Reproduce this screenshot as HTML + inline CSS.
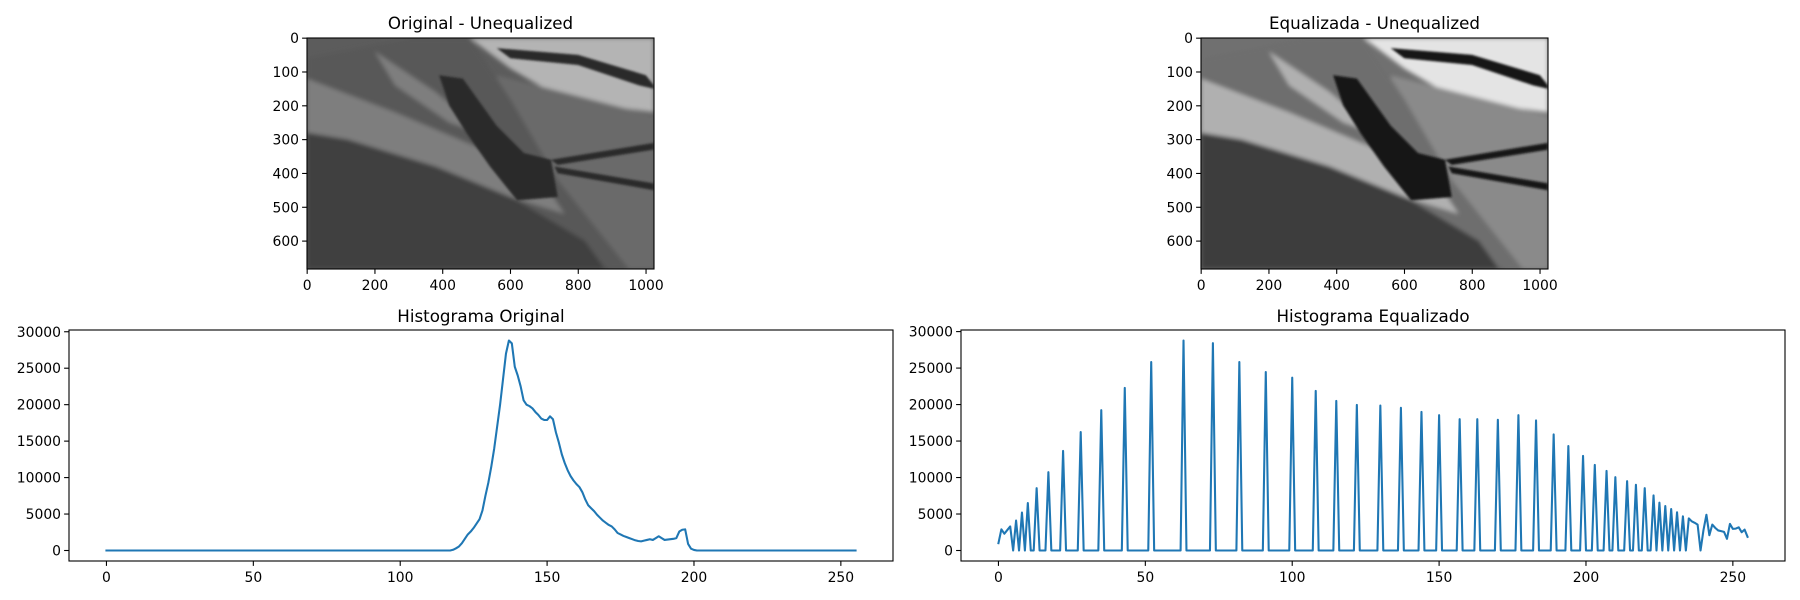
<!DOCTYPE html>
<html><head><meta charset="utf-8">
<style>
html,body{margin:0;padding:0;background:#fff;}
svg{display:block;font-family:"DejaVu Sans","Liberation Sans",sans-serif;}
</style></head>
<body>
<svg id="fig" width="1800" height="600" viewBox="0 0 1800 600" xmlns="http://www.w3.org/2000/svg">
<defs>
<filter id="soft" x="-5%" y="-5%" width="110%" height="110%"><feGaussianBlur stdDeviation="6"/></filter>
<filter id="soft2" x="-5%" y="-5%" width="110%" height="110%"><feGaussianBlur stdDeviation="3"/></filter>
<clipPath id="clipA"><rect x="0" y="0" width="1024" height="683"/></clipPath>
</defs>
</svg>
<script>
// ---------- data ----------
const origCounts = [
0,0,0,0,0,0,0,0,0,0,0,0,0,0,0,0,0,0,0,0,
0,0,0,0,0,0,0,0,0,0,0,0,0,0,0,0,0,0,0,0,
0,0,0,0,0,0,0,0,0,0,0,0,0,0,0,0,0,0,0,0,
0,0,0,0,0,0,0,0,0,0,0,0,0,0,0,0,0,0,0,0,
0,0,0,0,0,0,0,0,0,0,0,0,0,0,0,0,0,0,0,0,
0,0,0,0,0,0,0,0,0,0,0,0,0,0,0,0,0,0,100,300,
550,1000,1600,2200,2600,3100,3700,4300,5500,7500,9300,11500,14000,17000,20000,23500,27000,28800,28400,25200,
24000,22500,20600,20000,19800,19500,19000,18600,18100,17900,17900,18400,18000,16200,14800,13200,12000,11000,10200,9600,
9100,8700,8000,7000,6200,5800,5400,4900,4500,4100,3800,3500,3300,2900,2400,2200,2000,1850,1700,1550,
1400,1300,1250,1350,1450,1550,1450,1700,1950,1700,1450,1500,1550,1600,1700,2600,2850,2900,900,250,
80,0,0,0,0,0,0,0,0,0,0,0,0,0,0,0,0,0,0,0,
0,0,0,0,0,0,0,0,0,0,0,0,0,0,0,0,0,0,0,0,
0,0,0,0,0,0,0,0,0,0,0,0,0,0,0,0
];
const eqCounts = [
1000,2900,2300,2800,3300,0,4100,0,5200,0,6500,0,0,8550,0,0,0,10730,0,0,
0,0,13640,0,0,0,0,0,16230,0,0,0,0,0,0,19230,0,0,0,0,
0,0,0,22280,0,0,0,0,0,0,0,0,25830,0,0,0,0,0,0,0,
0,0,0,28780,0,0,0,0,0,0,0,0,0,28420,0,0,0,0,0,0,
0,0,25830,0,0,0,0,0,0,0,0,24460,0,0,0,0,0,0,0,0,
23690,0,0,0,0,0,0,0,21870,0,0,0,0,0,0,20500,0,0,0,0,
0,0,19960,0,0,0,0,0,0,0,19870,0,0,0,0,0,0,19550,0,0,
0,0,0,0,19000,0,0,0,0,0,18550,0,0,0,0,0,0,18000,0,0,
0,0,0,18000,0,0,0,0,0,0,17910,0,0,0,0,0,0,18550,0,0,
0,0,0,17820,0,0,0,0,0,15910,0,0,0,0,14320,0,0,0,0,12960,
0,0,0,11730,0,0,0,10910,0,0,10050,0,0,0,9500,0,0,9000,0,0,
8550,0,0,7550,0,6550,0,6090,0,5680,0,5230,0,4680,0,4400,4000,3800,3550,0,
2800,4900,2100,3550,3100,2750,2650,2550,1600,3640,2960,3000,3180,2500,2860,1870
];
const histXTicks = [0,50,100,150,200,250];
const histYTicks = [0,5000,10000,15000,20000,25000,30000];
const imgXTicks = [0,200,400,600,800,1000];
const imgYTicks = [0,100,200,300,400,500,600];
const imgW = 1024, imgH = 683;

const NS = "http://www.w3.org/2000/svg";
const fig = document.getElementById('fig');
function mk(tag, attrs, parent){
  const e = document.createElementNS(NS, tag);
  for (const k in attrs) e.setAttribute(k, attrs[k]);
  (parent||fig).appendChild(e);
  return e;
}
function txt(s, x, y, anchor, size, parent){
  const t = mk('text', {x:x, y:y, 'text-anchor':anchor, 'font-size':size, fill:'#000'}, parent);
  t.textContent = s;
  return t;
}

// ---------- histogram axes ----------
function histPanel(name, title, counts, L, R, T, B){
  const g = mk('g', {});
  
  
  const n = counts.length;
  const xmin = -0.05*(n-1), xmax = (n-1)*1.05;
  const cmax = Math.max(...counts), cmin = Math.min(...counts);
  const ymin = cmin - 0.05*(cmax-cmin), ymax = cmax + 0.05*(cmax-cmin);
  const sx = v => L + (v - xmin)/(xmax - xmin)*(R - L);
  const sy = v => B - (v - ymin)/(ymax - ymin)*(B - T);
  let d = '';
  counts.forEach((c,i)=>{ d += (i?'L':'M') + sx(i).toFixed(2) + ' ' + sy(c).toFixed(2); });
  const line = mk('path', {d:d, fill:'none', stroke:'#1f77b4', 'stroke-width':2.08, 'stroke-linejoin':'round', 'stroke-linecap':'square'}, g);
  
  
  const frame = mk('rect', {x:L, y:T, width:R-L, height:B-T, fill:'none', stroke:'#000', 'stroke-width':1.1}, g);
  
  
  const xt = mk('g', {}, g);
  
  
  histXTicks.forEach(v=>{
    const x = sx(v);
    mk('line', {x1:x, x2:x, y1:B, y2:B+4.9, stroke:'#000', 'stroke-width':1.1}, xt);
    txt(String(v), x, B+21, 'middle', 13.9, xt);
  });
  const yt = mk('g', {}, g);
  
  
  histYTicks.forEach(v=>{
    const y = sy(v);
    mk('line', {x1:L-4.9, x2:L, y1:y, y2:y, stroke:'#000', 'stroke-width':1.1}, yt);
    txt(String(v), L-8, y+5, 'end', 13.9, yt);
  });
  const tt = txt(title, (L+R)/2, T-8, 'middle', 16.7, g);
  
  
}

// ---------- image axes ----------
function imgPanel(name, title, L, T, W, H, tones){
  const g = mk('g', {});
  
  
  const img = mk('svg', {x:L, y:T, width:W, height:H, viewBox:'0 0 1024 683', preserveAspectRatio:'none'}, g);
  
  
  const c = mk('g', {'clip-path':'url(#clipA)'}, img);
  mk('rect', {x:0, y:0, width:1024, height:683, fill:tones.base}, c);
  const s = mk('g', {filter:'url(#soft)'}, c);
  mk('polygon', {points:'480,0 1024,0 1024,220 880,200 720,160 600,90', fill:tones.bright}, s);
  mk('polygon', {points:'560,110 1024,230 1024,683 780,683 700,500 600,330', fill:tones.field}, s);
  mk('polygon', {points:'0,60 300,0 480,0 600,180 740,420 900,620 950,683 0,683', fill:tones.slope}, s);
  mk('polygon', {points:'0,240 200,260 420,360 620,480 820,600 880,683 0,683', fill:tones.dark}, s);
  mk('polygon', {points:'0,120 260,220 520,330 720,460 760,520 600,470 380,380 120,300 0,280', fill:tones.light}, s);
  mk('polygon', {points:'200,40 380,160 520,280 560,300 420,250 260,140', fill:tones.light}, s);
  mk('polygon', {points:'0,560 400,620 760,660 900,683 0,683', fill:tones.dark}, s);
  const s2 = mk('g', {filter:'url(#soft2)'}, c);
  mk('polygon', {points:'390,110 460,120 560,260 640,340 720,360 740,470 620,480 540,380 470,280 420,200', fill:tones.tree}, s2);
  mk('polygon', {points:'720,360 1024,310 1024,330 740,375', fill:tones.tree}, s2);
  mk('polygon', {points:'730,380 1024,430 1024,450 740,400', fill:tones.tree}, s2);
  mk('polygon', {points:'560,30 800,50 1000,110 1024,140 1024,150 980,140 800,80 600,60', fill:tones.tree}, s2);
  mk('rect', {x:L, y:T, width:W, height:H, fill:'none', stroke:'#000', 'stroke-width':1.1}, g);
  const xt = mk('g', {}, g);
  
  
  imgXTicks.forEach(v=>{
    const x = L + (v+0.5)/imgW*W;
    mk('line', {x1:x, x2:x, y1:T+H, y2:T+H+4.9, stroke:'#000', 'stroke-width':1.1}, xt);
    txt(String(v), x, T+H+21, 'middle', 13.9, xt);
  });
  const yt = mk('g', {}, g);
  
  
  imgYTicks.forEach(v=>{
    const y = T + (v+0.5)/imgH*H;
    mk('line', {x1:L-4.9, x2:L, y1:y, y2:y, stroke:'#000', 'stroke-width':1.1}, yt);
    txt(String(v), L-8, y+5, 'end', 13.9, yt);
  });
  const tt = txt(title, L+W/2, T-9, 'middle', 16.7, g);
  
  
}

imgPanel('original-image-panel', 'Original - Unequalized', 307, 38, 347, 231,
  {base:'#5c5c5c', bright:'#b4b4b4', field:'#6a6a6a', slope:'#585858', dark:'#404040', light:'#7e7e7e', tree:'#2c2c2c'});
imgPanel('equalized-image-panel', 'Equalizada - Unequalized', 1201, 38, 347, 231,
  {base:'#707070', bright:'#e4e4e4', field:'#8a8a8a', slope:'#6e6e6e', dark:'#3c3c3c', light:'#b0b0b0', tree:'#151515'});
histPanel('original-histogram', 'Histograma Original', origCounts, 69, 893, 330, 561);
histPanel('equalized-histogram', 'Histograma Equalizado', eqCounts, 961, 1785, 330, 561);
</script>
</body></html>
